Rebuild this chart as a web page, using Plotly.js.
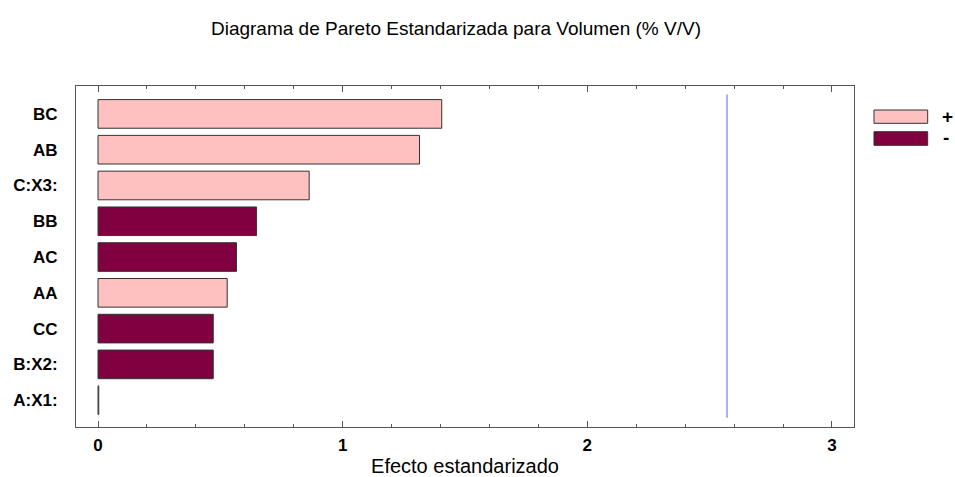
<!DOCTYPE html>
<html>
<head>
<meta charset="utf-8">
<script src="https://cdn.plot.ly/plotly-3.0.1.min.js"></script>
<style>html,body{margin:0;padding:0;background:#fff;}#chart{width:955px;height:477px;}</style>
</head>
<body>
<div id="chart"></div>
<script>
// Data (bottom to top)
const factors = ["A:X1:", "B:X2:", "CC", "AA", "AC", "BB", "C:X3:", "AB", "BC"];
const effects = [0.003, 0.471, 0.471, 0.528, 0.566, 0.648, 0.863, 1.314, 1.405];
const signs   = ["+", "-", "-", "+", "-", "-", "+", "+", "+"];
const criticalValue = 2.571;
const xTicks = [0, 1, 2, 3];
const legendLabels = ["+", "-"];

const posColor = "#FFC0C0";
const negColor = "#800040";
const barColors = signs.map(s => s === "+" ? posColor : negColor);
const FONT = "Liberation Sans, Arial, sans-serif";

const trace = {
  type: "bar",
  orientation: "h",
  y: factors,
  x: effects,
  width: 0.8,
  marker: {color: barColors, line: {color: "#333333", width: 1}},
  hoverinfo: "x+y",
  showlegend: false
};

const shapes = [
  {type: "line", xref: "x", yref: "paper", x0: criticalValue, x1: criticalValue, y0: 0.027, y1: 0.975,
   line: {color: "#7878f0", width: 1.2}},
  {type: "rect", xref: "paper", yref: "paper", x0: 1.0257, x1: 1.0947, y0: 0.8906, y1: 0.9296,
   fillcolor: posColor, line: {color: "#333333", width: 1}},
  {type: "rect", xref: "paper", yref: "paper", x0: 1.0257, x1: 1.0947, y0: 0.826, y1: 0.866,
   fillcolor: negColor, line: {color: "#333333", width: 1}}
];

const annotations = [
  {xref: "paper", yref: "paper", x: 1.110, y: 0.912, text: legendLabels[0], showarrow: false,
   xanchor: "left", yanchor: "middle", font: {family: FONT, size: 19, color: "#000", weight: "bold"}},
  {xref: "paper", yref: "paper", x: 1.112, y: 0.848, text: legendLabels[1], showarrow: false,
   xanchor: "left", yanchor: "middle", font: {family: FONT, size: 19, color: "#000", weight: "bold"}}
];

const layout = {
  width: 955, height: 477,
  margin: {l: 76, r: 101, t: 86, b: 50},
  paper_bgcolor: "#fff", plot_bgcolor: "#fff",
  font: {family: FONT, color: "#000"},
  title: {text: "Diagrama de Pareto Estandarizada para Volumen (% V/V)",
          font: {family: FONT, size: 19, color: "#000"},
          x: 0.4884, xref: "paper", xanchor: "center", y: 1 - 28/477, yanchor: "middle"},
  xaxis: {
    range: [-0.09, 3.09],
    tickvals: xTicks, ticktext: xTicks.map(String),
    ticks: "inside", ticklen: 6, tickcolor: "#555", tickwidth: 1,
    minor: {dtick: 0.2, tick0: 0, ticks: "inside", ticklen: 3, tickcolor: "#555", showgrid: false},
    showline: true, linecolor: "#555", linewidth: 1, mirror: "ticks",
    showgrid: false, zeroline: false,
    tickfont: {family: FONT, size: 17, color: "#000", weight: "bold"},
    ticklabelstandoff: 3,
    title: {text: "Efecto estandarizado", font: {family: FONT, size: 20, color: "#000"}, standoff: 4}
  },
  yaxis: {
    type: "category",
    categoryorder: "array", categoryarray: factors,
    range: [-0.75, 8.78],
    ticks: "", showline: true, linecolor: "#555", linewidth: 1, mirror: true,
    showgrid: false, zeroline: false,
    tickfont: {family: FONT, size: 17, color: "#000", weight: "bold"},
    ticklabelstandoff: 14
  },
  shapes: shapes,
  annotations: annotations,
  showlegend: false
};

Plotly.newPlot("chart", [trace], layout, {displayModeBar: false, staticPlot: true});
</script>
</body>
</html>
